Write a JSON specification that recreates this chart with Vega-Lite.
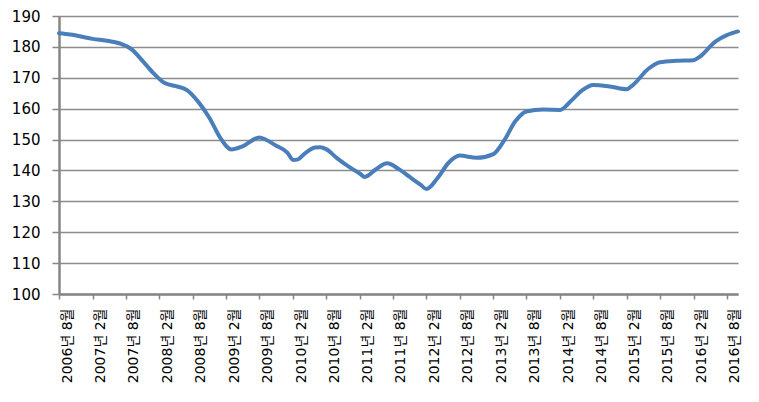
{
  "$schema": "https://vega.github.io/schema/vega-lite/v6.json",
  "width": 679,
  "height": 278,
  "autosize": {"type": "none"},
  "padding": {"left": 59, "top": 16, "right": 21, "bottom": 108},
  "background": "white",
  "config": {"view": {"stroke": null}, "font": "DejaVu Sans"},
  "data": {"values": [
    {"date": "2006-08-01", "value": 184.4},
    {"date": "2006-10-01", "value": 184.0},
    {"date": "2007-02-01", "value": 182.6},
    {"date": "2007-05-01", "value": 181.9},
    {"date": "2007-07-01", "value": 181.1},
    {"date": "2007-09-01", "value": 179.3},
    {"date": "2007-11-01", "value": 175.5},
    {"date": "2008-01-01", "value": 171.4},
    {"date": "2008-03-01", "value": 168.3},
    {"date": "2008-05-01", "value": 167.3},
    {"date": "2008-07-01", "value": 166.0},
    {"date": "2008-09-01", "value": 162.2},
    {"date": "2008-11-01", "value": 157.0},
    {"date": "2009-01-01", "value": 150.4},
    {"date": "2009-03-01", "value": 146.8},
    {"date": "2009-05-01", "value": 147.8},
    {"date": "2009-08-01", "value": 150.7},
    {"date": "2009-09-01", "value": 150.1},
    {"date": "2009-11-01", "value": 148.0},
    {"date": "2010-01-01", "value": 145.8},
    {"date": "2010-02-01", "value": 143.4},
    {"date": "2010-03-01", "value": 143.6},
    {"date": "2010-04-01", "value": 145.2},
    {"date": "2010-06-01", "value": 147.4},
    {"date": "2010-07-01", "value": 147.5},
    {"date": "2010-08-01", "value": 146.9},
    {"date": "2010-10-01", "value": 143.9},
    {"date": "2010-12-01", "value": 141.3},
    {"date": "2011-02-01", "value": 139.0},
    {"date": "2011-03-01", "value": 137.9},
    {"date": "2011-05-01", "value": 140.4},
    {"date": "2011-07-01", "value": 142.3},
    {"date": "2011-09-01", "value": 140.5},
    {"date": "2011-11-01", "value": 137.9},
    {"date": "2012-01-01", "value": 135.3},
    {"date": "2012-02-01", "value": 134.0},
    {"date": "2012-04-01", "value": 137.5},
    {"date": "2012-06-01", "value": 142.5},
    {"date": "2012-08-01", "value": 144.8},
    {"date": "2012-11-01", "value": 144.1},
    {"date": "2013-02-01", "value": 145.3},
    {"date": "2013-04-01", "value": 149.7},
    {"date": "2013-06-01", "value": 155.9},
    {"date": "2013-08-01", "value": 159.1},
    {"date": "2013-11-01", "value": 159.7},
    {"date": "2014-02-01", "value": 159.6},
    {"date": "2014-04-01", "value": 162.5},
    {"date": "2014-06-01", "value": 165.9},
    {"date": "2014-08-01", "value": 167.7},
    {"date": "2014-11-01", "value": 167.2},
    {"date": "2015-02-01", "value": 166.3},
    {"date": "2015-03-01", "value": 167.4},
    {"date": "2015-06-01", "value": 173.0},
    {"date": "2015-08-01", "value": 175.0},
    {"date": "2015-11-01", "value": 175.5},
    {"date": "2016-02-01", "value": 175.7},
    {"date": "2016-03-01", "value": 176.6},
    {"date": "2016-06-01", "value": 181.8},
    {"date": "2016-08-01", "value": 183.8},
    {"date": "2016-10-01", "value": 185.0}
  ]},
  "mark": {"type": "line", "color": "#4A7EBB", "strokeWidth": 4, "strokeCap": "round", "strokeJoin": "round", "interpolate": "monotone"},
  "encoding": {
    "x": {
      "field": "date",
      "type": "temporal",
      "timeUnit": "utcyearmonth",
      "scale": {"domain": [{"year": 2006, "month": 8, "date": 1, "utc": true}, {"year": 2016, "month": 10, "date": 1, "utc": true}]},
      "axis": {
        "title": null,
        "grid": false,
        "format": "%Y년 %-m월",
        "values": [
          {"year": 2006, "month": 8, "date": 1, "utc": true},
          {"year": 2007, "month": 2, "date": 1, "utc": true},
          {"year": 2007, "month": 8, "date": 1, "utc": true},
          {"year": 2008, "month": 2, "date": 1, "utc": true},
          {"year": 2008, "month": 8, "date": 1, "utc": true},
          {"year": 2009, "month": 2, "date": 1, "utc": true},
          {"year": 2009, "month": 8, "date": 1, "utc": true},
          {"year": 2010, "month": 2, "date": 1, "utc": true},
          {"year": 2010, "month": 8, "date": 1, "utc": true},
          {"year": 2011, "month": 2, "date": 1, "utc": true},
          {"year": 2011, "month": 8, "date": 1, "utc": true},
          {"year": 2012, "month": 2, "date": 1, "utc": true},
          {"year": 2012, "month": 8, "date": 1, "utc": true},
          {"year": 2013, "month": 2, "date": 1, "utc": true},
          {"year": 2013, "month": 8, "date": 1, "utc": true},
          {"year": 2014, "month": 2, "date": 1, "utc": true},
          {"year": 2014, "month": 8, "date": 1, "utc": true},
          {"year": 2015, "month": 2, "date": 1, "utc": true},
          {"year": 2015, "month": 8, "date": 1, "utc": true},
          {"year": 2016, "month": 2, "date": 1, "utc": true},
          {"year": 2016, "month": 8, "date": 1, "utc": true}
        ],
        "labelAngle": -90,
        "labelAlign": "right",
        "labelBaseline": "middle",
        "labelOffset": 8,
        "labelFont": "DejaVu Sans, Noto Sans CJK KR",
        "labelFontSize": 14,
        "labelColor": "#000000",
        "labelPadding": 9,
        "labelOverlap": false,
        "labelFlush": false,
        "tickSize": 5,
        "tickColor": "#868686",
        "tickWidth": 1.5,
        "domainColor": "#868686",
        "domainWidth": 2.5
      }
    },
    "y": {
      "field": "value",
      "type": "quantitative",
      "scale": {"domain": [100, 190], "nice": false, "zero": false},
      "axis": {
        "title": null,
        "values": [100, 110, 120, 130, 140, 150, 160, 170, 180, 190],
        "grid": true,
        "gridColor": "#8C8C8C",
        "gridWidth": 1.3,
        "labelFont": "DejaVu Sans",
        "labelFontSize": 15,
        "labelColor": "#000000",
        "labelPadding": 12,
        "tickSize": 7,
        "tickColor": "#868686",
        "tickWidth": 1.5,
        "domainColor": "#868686",
        "domainWidth": 2.5
      }
    }
  }
}
